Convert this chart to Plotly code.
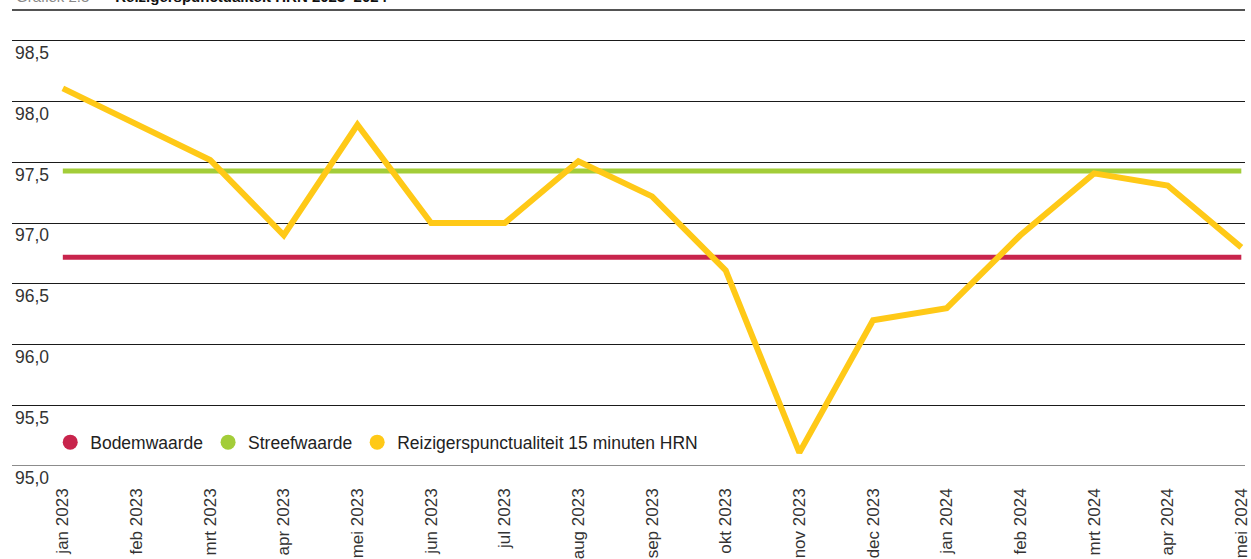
import plotly.graph_objects as go

months = ["jan 2023", "feb 2023", "mrt 2023", "apr 2023", "mei 2023", "jun 2023",
          "jul 2023", "aug 2023", "sep 2023", "okt 2023", "nov 2023", "dec 2023",
          "jan 2024", "feb 2024", "mrt 2024", "apr 2024", "mei 2024"]
punctualiteit = [98.11, 97.81, 97.52, 96.90, 97.81, 97.00, 97.00, 97.51, 97.22,
                 96.61, 95.11, 96.20, 96.30, 96.90, 97.41, 97.31, 96.80]
bodemwaarde = [96.72] * len(months)
streefwaarde = [97.43] * len(months)

ytick_vals = [95.0, 95.5, 96.0, 96.5, 97.0, 97.5, 98.0, 98.5]
ytick_text = ["95,0", "95,5", "96,0", "96,5", "97,0", "97,5", "98,0", "98,5"]

RED = "#C8244C"
GREEN = "#A3CD39"
YELLOW = "#FFC917"
FONT = "Liberation Sans, Arial, sans-serif"

fig = go.Figure()
x_idx = list(range(len(months)))

fig.add_trace(go.Scatter(x=x_idx, y=bodemwaarde, mode="lines",
                         line=dict(color=RED, width=5), showlegend=False, hoverinfo="skip"))
fig.add_trace(go.Scatter(x=x_idx, y=streefwaarde, mode="lines",
                         line=dict(color=GREEN, width=5), showlegend=False, hoverinfo="skip"))
fig.add_trace(go.Scatter(x=x_idx, y=punctualiteit, mode="lines",
                         line=dict(color=YELLOW, width=6), showlegend=False))

for name, col in [("Bodemwaarde", RED), ("Streefwaarde", GREEN),
                  ("Reizigerspunctualiteit 15 minuten HRN", YELLOW)]:
    fig.add_trace(go.Scatter(x=[None], y=[None], mode="markers", name=name,
                             marker=dict(size=15, color=col)))

fig.update_layout(
    width=1251, height=559,
    margin=dict(l=12, r=0, t=10, b=92),
    paper_bgcolor="white", plot_bgcolor="white",
    font=dict(family=FONT, size=17, color="#333333"),
    showlegend=True,
    legend=dict(orientation="h", x=0.031, y=0.052, xanchor="left", yanchor="middle",
                bgcolor="rgba(0,0,0,0)", font=dict(size=17.5, color="#222222"),
                itemwidth=30, tracegroupgap=0),
    xaxis=dict(
        tickmode="array", tickvals=x_idx, ticktext=months,
        range=[-0.69, 16.05],
        tickangle=-90, showgrid=False, zeroline=False,
        showline=False, ticks="", ticklabelstandoff=18,
        ticklabeloverflow="allow",
        tickfont=dict(size=17, color="#333333"),
    ),
    yaxis=dict(
        range=[95.0, 98.755],
        tickmode="array", tickvals=ytick_vals, ticktext=ytick_text,
        ticklabelposition="inside bottom", ticklabeloverflow="allow",
        showgrid=True, gridcolor="#1a1a1a", gridwidth=1.2,
        zeroline=False, showline=False, ticks="",
        tickfont=dict(size=17.5, color="#333333"),
    ),
    shapes=[
        dict(type="line", xref="paper", yref="paper", x0=0, x1=1, y0=1, y1=1,
             line=dict(color="#1a1a1a", width=1.5)),
        dict(type="line", xref="paper", yref="y", x0=0, x1=1, y0=95.0, y1=95.0,
             line=dict(color="#666666", width=1.5)),
    ],
    annotations=[
        dict(xref="paper", yref="paper", x=0.002, y=1, xanchor="left", yanchor="bottom",
             yshift=3, showarrow=False,
             text="<span style='color:#888'>Grafiek 2.3 ·</span>    <b>Reizigerspunctualiteit HRN 2023–2024</b>",
             font=dict(size=15, color="#111111")),
    ],
)

fig.write_html("out.html", config={"displayModeBar": False},
               post_script="document.body.style.margin='0';")
